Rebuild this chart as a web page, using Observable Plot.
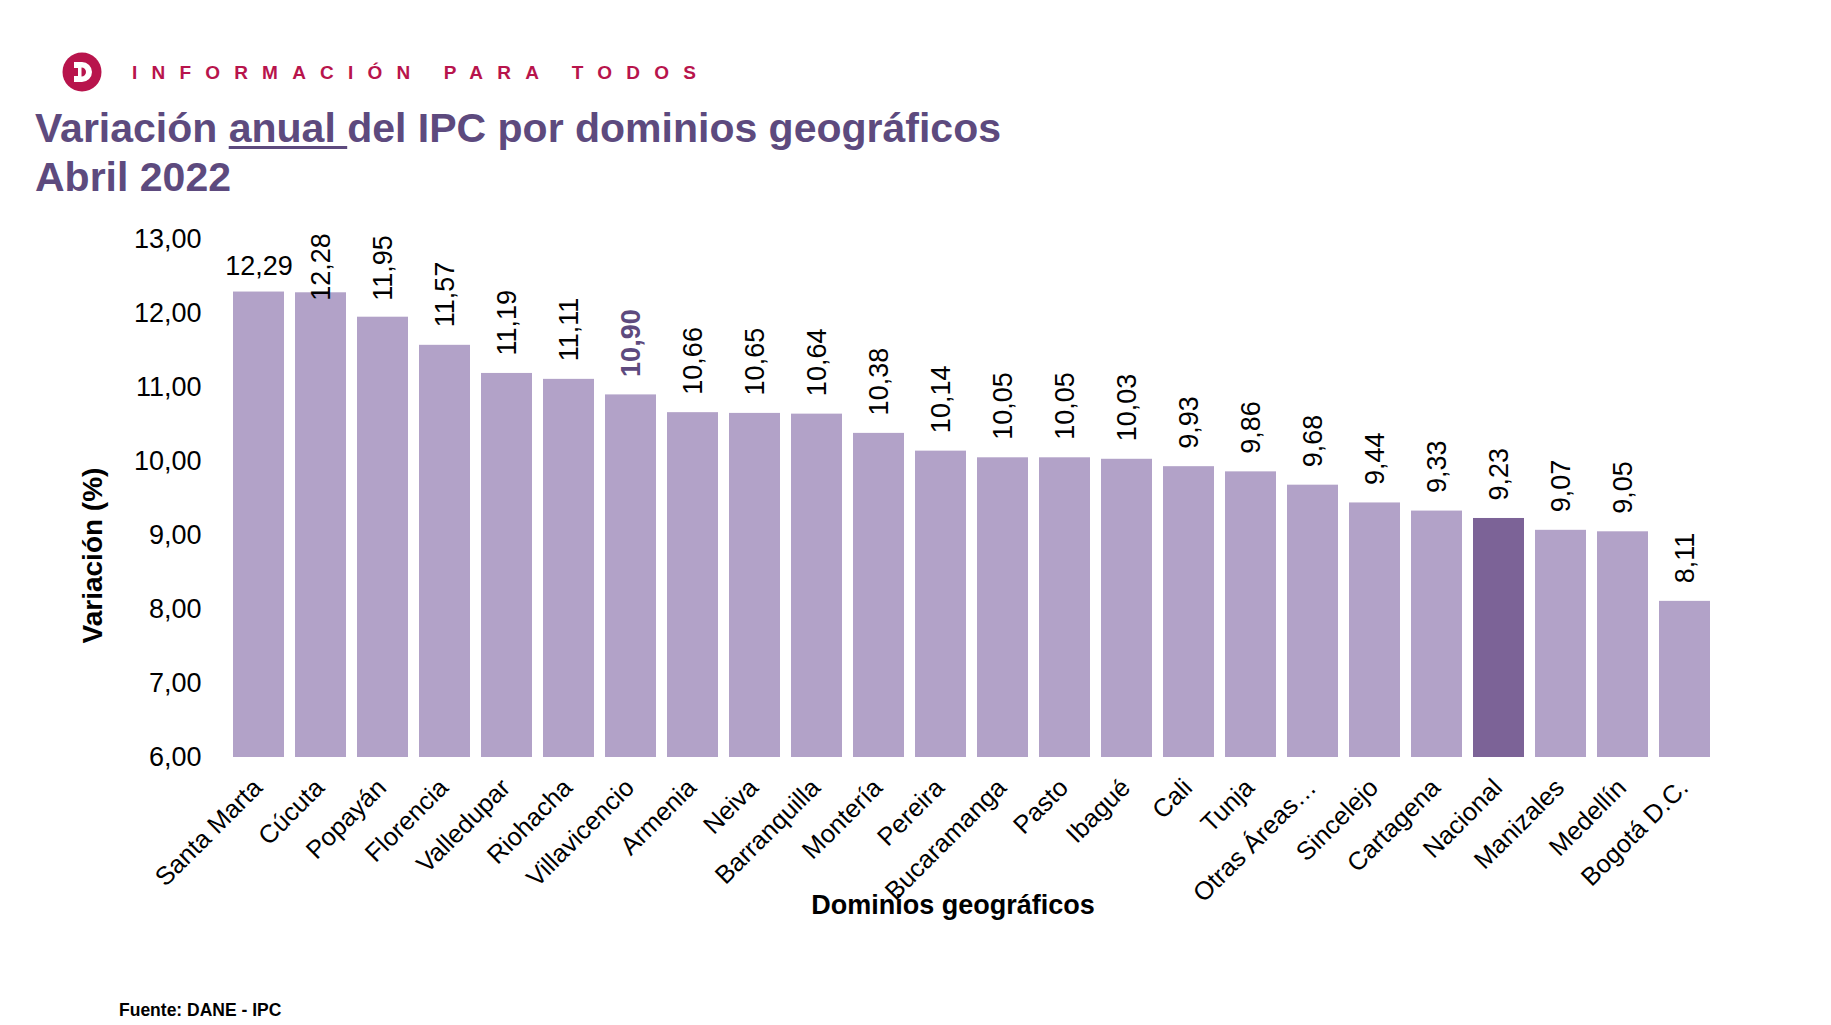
<!DOCTYPE html>
<html><head><meta charset="utf-8">
<script src="https://cdn.jsdelivr.net/npm/d3@7"></script>
<script src="https://cdn.jsdelivr.net/npm/@observablehq/plot@0.6"></script>
<style>
body{margin:0;background:#fff;font-family:"Liberation Sans",Arial,sans-serif;}
#page{position:relative;width:1831px;height:1025px;overflow:hidden;background:#fff;}
#logo{position:absolute;left:62px;top:52px;}
#brand{position:absolute;left:132px;top:63px;font-size:19px;line-height:1;font-weight:bold;color:#b8144c;letter-spacing:14.2px;white-space:nowrap;}
#title{position:absolute;left:35px;top:104px;font-size:41px;line-height:49px;font-weight:bold;color:#5d4a7e;white-space:nowrap;}
#title u{text-decoration-thickness:3px;text-underline-offset:4px;}
#chart{position:absolute;left:0;top:190px;}
#source{position:absolute;left:119px;top:1002px;font-size:17.5px;line-height:1;font-weight:bold;color:#000;}
</style></head><body>
<div id="page">
  <svg id="logo" width="40" height="40" viewBox="0 0 40 40">
    <circle cx="20" cy="20" r="19.5" fill="#b8144c"/>
    <path d="M12 10 H20 A10 10 0 0 1 20 30 H12 V24 H16 V16 H12 Z M19.5 15.5 V24.5 A4.5 4.5 0 0 0 19.5 15.5 Z" fill="#fff" fill-rule="evenodd"/>
  </svg>
  <div id="brand">INFORMACIÓN PARA TODOS</div>
  <div id="title">Variación <u>anual </u>del IPC por dominios geográficos<br>Abril 2022</div>
  <div id="chart"></div>
  <div id="source">Fuente: DANE - IPC</div>
</div>
<script>
const names = ["Santa Marta","Cúcuta","Popayán","Florencia","Valledupar","Riohacha","Villavicencio","Armenia","Neiva","Barranquilla","Montería","Pereira","Bucaramanga","Pasto","Ibagué","Cali","Tunja","Otras Áreas…","Sincelejo","Cartagena","Nacional","Manizales","Medellín","Bogotá D.C."];
const values = [12.29,12.28,11.95,11.57,11.19,11.11,10.90,10.66,10.65,10.64,10.38,10.14,10.05,10.05,10.03,9.93,9.86,9.68,9.44,9.33,9.23,9.07,9.05,8.11];
const yTicks = [6,7,8,9,10,11,12,13];
const highlightBar = "Nacional";
const highlightLabel = "Villavicencio";
const yTitle = "Variación (%)";
const xTitle = "Dominios geográficos";

const data = names.map((name, i) => ({name, value: values[i], i}));
const fmt = v => v.toFixed(2).replace(".", ",");
const yMin = 6, yMax = 13;
const labelCap = 11.93; // keep rotated labels inside chart area

const rotatedOpts = {
  x: "name", y: d => Math.min(d.value, labelCap), text: d => fmt(d.value),
  rotate: -90, textAnchor: "start", dy: -18, fontSize: 27
};

const plot = Plot.plot({
  width: 1831,
  height: 760,
  marginLeft: 226,
  marginRight: 114,
  marginTop: 49,
  marginBottom: 193,
  style: {fontFamily: "'Liberation Sans', Arial, sans-serif", fontSize: "27px", color: "#000", background: "transparent"},
  x: {domain: names, paddingInner: 0.17, paddingOuter: 0.085, label: null},
  y: {domain: [yMin, yMax], label: null},
  marks: [
    Plot.barY(data, {x: "name", y1: yMin, y2: "value", fill: d => d.name === highlightBar ? "#7c6397" : "#b2a2c8"}),
    Plot.axisY({ticks: yTicks, tickFormat: fmt, tickSize: 0, tickPadding: 25, fontSize: 27, label: null}),
    Plot.axisX({tickRotate: -45, tickSize: 0, tickPadding: 26, dx: -1, fontSize: 25.5, label: null}),
    // horizontal label for first bar
    Plot.text(data.filter(d => d.i === 0), {x: "name", y: "value", text: d => fmt(d.value), dy: -26, fontSize: 27, fill: "#000"}),
    // rotated labels
    Plot.text(data.filter(d => d.i > 0 && d.name !== highlightLabel), {...rotatedOpts, fill: "#000"}),
    Plot.text(data.filter(d => d.name === highlightLabel), {...rotatedOpts, fill: "#5d4a7e", fontWeight: "bold"}),
    Plot.text([yTitle], {frameAnchor: "left", text: d => d, rotate: -90, textAnchor: "middle", lineAnchor: "middle", dx: -133, dy: 57, fontSize: 28, fontWeight: "bold", fill: "#000"}),
    Plot.text([xTitle], {frameAnchor: "bottom", text: d => d, textAnchor: "middle", lineAnchor: "middle", dx: -19, dy: 148, fontSize: 27, fontWeight: "bold", fill: "#000"})
  ]
});
document.getElementById("chart").appendChild(plot);
</script>
</body></html>
